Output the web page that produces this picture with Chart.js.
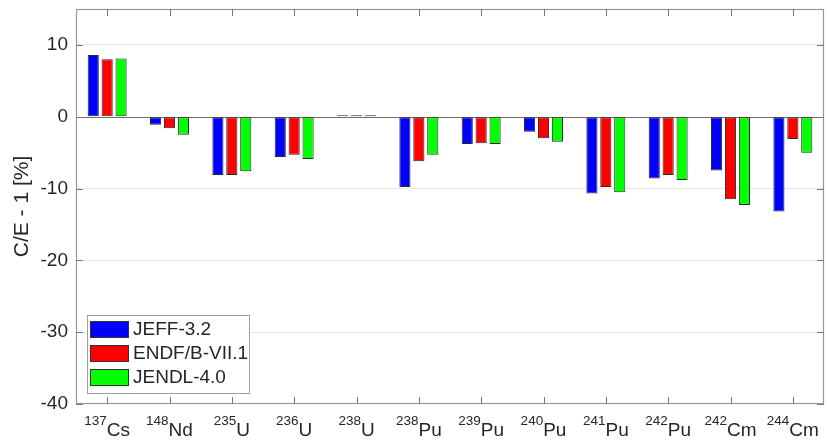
<!DOCTYPE html>
<html>
<head>
<meta charset="utf-8">
<script src="https://cdn.jsdelivr.net/npm/chart.js@4.4.1/dist/chart.umd.min.js"></script>
<style>
html,body{margin:0;padding:0;background:#fff;}
#wrap{width:827px;height:441px;}
</style>
</head>
<body>
<div id="wrap"><canvas id="c" width="827" height="441"></canvas></div>
<script>
// ---- data ----
const massNumbers = ['137','148','235','236','238','238','239','240','241','242','242','244'];
const elements    = ['Cs','Nd','U','U','U','Pu','Pu','Pu','Pu','Pu','Cm','Cm'];
const categories  = massNumbers.map((m, i) => m + elements[i]);
const seriesNames = ['JEFF-3.2', 'ENDF/B-VII.1', 'JENDL-4.0'];
const jeff  = [8.6, -1.1, -8.1, -5.6, 0.2, -9.8, -3.8, -2.1, -10.7, -8.6, -7.5, -13.2];
const endf  = [8.0, -1.6, -8.1, -5.3, 0.2, -6.2, -3.7, -3.0, -9.8, -8.1, -11.5, -3.1];
const jendl = [8.1, -2.5, -7.6, -5.9, 0.2, -5.3, -3.8, -3.5, -10.5, -8.8, -12.3, -5.0];
const yTicks = [-40, -30, -20, -10, 0, 10];
const yMin = -40, yMax = 15;

const colors = ['#0000ff', '#ff0000', '#00ff00'];
const FONT = '"Liberation Sans", Arial, Helvetica, sans-serif';
const TXT = '#262626';

const frameAndLabels = {
  id: 'frameAndLabels',
  beforeDatasetsDraw(chart) {
    const {ctx, chartArea: a, scales: {y}} = chart;
    ctx.save();
    ctx.strokeStyle = '#6e6e6e';
    ctx.lineWidth = 1;
    const y0 = Math.round(y.getPixelForValue(0)) + 0.5;
    ctx.beginPath(); ctx.moveTo(a.left, y0); ctx.lineTo(a.right, y0); ctx.stroke();
    ctx.restore();
  },
  afterDraw(chart) {
    const {ctx, chartArea: a, scales: {x, y}} = chart;
    ctx.save();
    // frame
    ctx.strokeStyle = '#999999';
    ctx.lineWidth = 1.2;
    ctx.strokeRect(a.left + 0.5, a.top + 0.5, a.right - a.left - 1, a.bottom - a.top - 1);
    // inward tick marks
    ctx.strokeStyle = '#777777';
    ctx.lineWidth = 1;
    const tl = 7;
    ctx.beginPath();
    categories.forEach((c, i) => {
      const px = Math.round(x.getPixelForValue(i)) + 0.5;
      ctx.moveTo(px, a.top); ctx.lineTo(px, a.top + tl);
      ctx.moveTo(px, a.bottom); ctx.lineTo(px, a.bottom - tl);
    });
    yTicks.forEach(v => {
      const py = Math.round(y.getPixelForValue(v)) + 0.5;
      ctx.moveTo(a.left, py); ctx.lineTo(a.left + tl, py);
      ctx.moveTo(a.right, py); ctx.lineTo(a.right - tl, py);
    });
    ctx.stroke();
    // x labels with superscripts
    ctx.fillStyle = TXT;
    ctx.textBaseline = 'alphabetic';
    ctx.textAlign = 'left';
    const supFont = '13.5px ' + FONT, mainFont = '19px ' + FONT;
    categories.forEach((c, i) => {
      const px = x.getPixelForValue(i);
      ctx.font = supFont; const ws = ctx.measureText(massNumbers[i]).width;
      ctx.font = mainFont; const wm = ctx.measureText(elements[i]).width;
      const x0 = px - (ws + wm) / 2;
      ctx.font = supFont; ctx.fillText(massNumbers[i], x0, a.bottom + 21);
      ctx.font = mainFont; ctx.fillText(elements[i], x0 + ws, a.bottom + 32);
    });
    // legend
    const lx = 87.5, ly = 315.5, lw = 162, lh = 78;
    ctx.fillStyle = '#ffffff';
    ctx.fillRect(lx, ly, lw, lh);
    ctx.strokeStyle = '#a0a0a0';
    ctx.lineWidth = 1;
    ctx.strokeRect(lx, ly, lw, lh);
    chart.data.datasets.forEach((ds, i) => {
      const sy = 321 + i * 24;
      ctx.fillStyle = ds.backgroundColor;
      ctx.fillRect(90.5, sy + 0.5, 38, 16);
      ctx.strokeStyle = '#333333';
      ctx.strokeRect(90.5, sy + 0.5, 38, 16);
      ctx.fillStyle = TXT;
      ctx.font = '19px ' + FONT;
      ctx.textBaseline = 'middle';
      ctx.fillText(ds.label, 133, sy + 9);
    });
    ctx.restore();
  }
};

const seriesData = [jeff, endf, jendl];
new Chart(document.getElementById('c'), {
  type: 'bar',
  data: {
    labels: categories,
    datasets: seriesNames.map((n, i) => ({
      label: n,
      data: seriesData[i],
      backgroundColor: colors[i],
      borderColor: '#2a2a2a',
      borderWidth: 1,
      borderSkipped: false,
      categoryPercentage: 0.67,
      barPercentage: 0.8
    }))
  },
  options: {
    responsive: false,
    animation: false,
    devicePixelRatio: 1,
    layout: {padding: {top: 9, right: 3, left: 0, bottom: 0}},
    plugins: {legend: {display: false}, tooltip: {enabled: false}},
    scales: {
      x: {
        type: 'category',
        offset: true,
        grid: {display: false, drawTicks: false},
        border: {display: false},
        ticks: {display: false},
        afterFit(s) { s.height = 37; s.paddingLeft = 0; s.paddingRight = 0; }
      },
      y: {
        min: yMin, max: yMax,
        afterBuildTicks(s) { s.ticks = yTicks.map(v => ({value: v})); },
        afterFit(s) { s.width = 76; s.paddingTop = 0; s.paddingBottom = 0; },
        grid: {
          drawTicks: false,
          color: ctx => (ctx.tick && (ctx.tick.value === 0 || ctx.tick.value === yMin)) ? 'rgba(0,0,0,0)' : '#e8e8e8',
          lineWidth: 1
        },
        border: {display: false},
        ticks: {
          padding: 8,
          color: TXT,
          font: {family: FONT, size: 19},
          callback: v => String(v)
        },
        title: {
          display: true,
          text: 'C/E - 1 [%]',
          color: TXT,
          font: {family: FONT, size: 21},
          padding: {top: 10, bottom: 0}
        }
      }
    }
  },
  plugins: [frameAndLabels]
});
</script>
</body>
</html>
